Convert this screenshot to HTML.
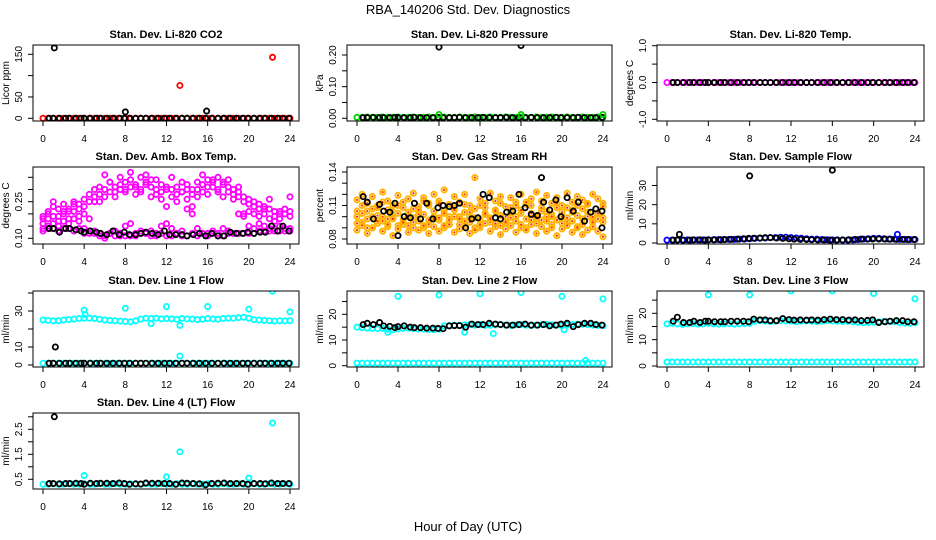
<!DOCTYPE html>
<html><head><meta charset="utf-8"><title>RBA_140206 Std. Dev. Diagnostics</title>
<style>
html,body{margin:0;padding:0;background:#fff;}
svg{display:block;font-family:"Liberation Sans",sans-serif;}
</style></head>
<body>
<svg id="chart" width="936" height="540" viewBox="0 0 936 540" xmlns="http://www.w3.org/2000/svg">
<rect x="0" y="0" width="936" height="540" fill="#fff"/>
<text x="468" y="14" text-anchor="middle" font-size="13">RBA_140206  Std. Dev. Diagnostics</text>
<text x="468" y="531" text-anchor="middle" font-size="13">Hour of Day (UTC)</text>
</svg>
<script>
// ---- shared hour categories ----
const HH = [0,0.5,1,1.5,2,2.5,3,3.5,4,4.5,5,5.5,6,6.5,7,7.5,8,8.5,9,9.5,10,10.5,11,11.5,12,12.5,13,13.5,14,14.5,15,15.5,16,16.5,17,17.5,18,18.5,19,19.5,20,20.5,21,21.5,22,22.5,23,23.5,24];
const BX = [0.6,1,1.6,2.2,2.6,3.2,3.7,4,4.6,5.2,5.6,6.2,6.8,7.4,7.9,8.4,9,9.5,10,10.6,11.2,11.8,12.3,12.9,13.5,14,14.6,15.2,15.8,16.4,17,17.6,18.2,18.8,19.4,19.9,20.5,21.1,21.6,22.2,22.8,23.3,23.9];
const xTicks = [0,4,8,12,16,20,24];

// ---- panel 1: CO2 ----
const co2Red = [0,0,0,0,0,0,0,0,0,0,0,0,0,0,0,0,0,0,0,0,0,0,0,0,0,0,0,0,0,0,0,0,0,0,0,0,0,0,0,0,0,0,0,0,0,0,0,0,0];
const co2RedOutX = [13.3,22.3];
const co2RedOutY = [77,143];
const co2Black = [0,0,0,0,0,0,0,0,0,0,0,0,0,0,0,0,0,0,0,0,0,0,0,0,0,0,0,0,0,0,0,0,0,0,0,0,0,0,0,0,0,0,0];
const co2BlackOutX = [1.1,8,15.9];
const co2BlackOutY = [165,15,17];

// ---- panel 2: pressure ----
const presGreen = [0.003,0.003,0.004,0.003,0.003,0.004,0.003,0.003,0.004,0.003,0.003,0.004,0.003,0.003,0.004,0.003,0.003,0.004,0.003,0.003,0.004,0.003,0.003,0.004,0.003,0.003,0.004,0.003,0.003,0.004,0.003,0.003,0.004,0.003,0.003,0.004,0.003,0.003,0.004,0.003,0.003,0.004,0.003,0.003,0.004,0.003,0.003,0.004,0.003];
const presBlack = [0.002,0.002,0.003,0.002,0.002,0.002,0.003,0.002,0.002,0.002,0.003,0.002,0.002,0.002,0.003,0.002,0.002,0.002,0.003,0.002,0.002,0.002,0.003,0.002,0.002,0.002,0.003,0.002,0.002,0.002,0.003,0.002,0.002,0.002,0.003,0.002,0.002,0.002,0.003,0.002,0.002,0.002,0.003];
const presBlackOutX = [8,16];
const presBlackOutY = [0.225,0.23];
const presGreenOutX = [8,16,24];
const presGreenOutY = [0.012,0.012,0.012];

// ---- panel 3: Li-820 temp ----
const tempMag = [0,0,0,0,0,0,0,0,0,0,0,0,0,0,0,0,0,0,0,0,0,0,0,0,0,0,0,0,0,0,0,0,0,0,0,0,0,0,0,0,0,0,0,0,0,0,0,0,0];
const tempBlack = [0,0,0,0,0,0,0,0,0,0,0,0,0,0,0,0,0,0,0,0,0,0,0,0,0,0,0,0,0,0,0,0,0,0,0,0,0,0,0,0,0,0,0];

// ---- panel 4: amb box temp ----
const ambMagA = [0.19,0.21,0.23,0.19,0.2,0.22,0.21,0.24,0.23,0.25,0.27,0.28,0.3,0.29,0.31,0.3,0.33,0.31,0.32,0.3,0.33,0.31,0.3,0.29,0.31,0.3,0.28,0.29,0.3,0.28,0.3,0.32,0.31,0.33,0.3,0.32,0.29,0.3,0.27,0.25,0.24,0.23,0.22,0.2,0.22,0.19,0.21,0.2,0.21];
const ambMagB = [0.16,0.18,0.25,0.17,0.21,0.18,0.24,0.19,0.2,0.18,0.3,0.25,0.36,0.33,0.27,0.35,0.29,0.37,0.28,0.35,0.36,0.27,0.34,0.26,0.23,0.35,0.25,0.33,0.26,0.23,0.27,0.36,0.28,0.34,0.35,0.27,0.34,0.26,0.31,0.2,0.21,0.25,0.19,0.22,0.26,0.17,0.18,0.2,0.27];
const ambMagC = [0.13,0.14,0.14,0.13,0.14,0.14,0.13,0.14,0.12,0.12,0.12,0.11,0.11,0.12,0.11,0.11,0.11,0.11,0.11,0.12,0.12,0.11,0.11,0.12,0.11,0.11,0.12,0.11,0.11,0.12,0.11,0.12,0.11,0.12,0.11,0.11,0.12,0.12,0.12,0.12,0.12,0.12,0.13,0.13,0.13,0.13,0.13,0.13,0.13];
const ambMagD = [0.14,0.15,0.16,0.15,0.17,0.16,0.18,0.17,0.14,0.13,0.13,0.12,0.1,0.12,0.13,0.12,0.15,0.16,0.12,0.13,0.12,0.13,0.12,0.15,0.16,0.14,0.12,0.13,0.22,0.2,0.14,0.12,0.12,0.13,0.12,0.14,0.13,0.12,0.2,0.19,0.15,0.14,0.16,0.15,0.14,0.14,0.15,0.14,0.14];
const ambMagE = [0.18,0.2,0.19,0.22,0.24,0.21,0.25,0.22,0.26,0.28,0.25,0.31,0.27,0.33,0.29,0.32,0.3,0.34,0.31,0.29,0.32,0.34,0.28,0.32,0.3,0.27,0.31,0.29,0.32,0.3,0.33,0.29,0.34,0.31,0.29,0.33,0.31,0.28,0.29,0.27,0.26,0.2,0.24,0.23,0.18,0.21,0.2,0.22,0.19];
const ambBlack = [0.14,0.14,0.125,0.14,0.14,0.135,0.13,0.125,0.13,0.125,0.12,0.115,0.13,0.115,0.125,0.115,0.115,0.12,0.125,0.12,0.115,0.13,0.115,0.115,0.115,0.11,0.115,0.12,0.11,0.12,0.11,0.11,0.125,0.12,0.12,0.125,0.12,0.125,0.125,0.15,0.13,0.15,0.13];

// ---- panel 5: gas stream RH ----
const rhA = [0.1,0.095,0.105,0.09,0.11,0.1,0.098,0.104,0.092,0.108,0.1,0.095,0.102,0.09,0.11,0.1,0.097,0.105,0.093,0.108,0.1,0.096,0.104,0.09,0.11,0.102,0.095,0.106,0.092,0.1,0.108,0.096,0.103,0.09,0.11,0.1,0.097,0.105,0.093,0.108,0.1,0.095,0.104,0.091,0.107,0.1,0.097,0.103,0.095];
const rhB = [0.115,0.12,0.112,0.118,0.108,0.122,0.114,0.11,0.119,0.113,0.116,0.121,0.109,0.117,0.112,0.12,0.114,0.124,0.111,0.118,0.113,0.12,0.11,0.135,0.116,0.112,0.121,0.114,0.118,0.109,0.117,0.113,0.12,0.111,0.116,0.122,0.114,0.119,0.112,0.117,0.11,0.121,0.113,0.118,0.115,0.111,0.12,0.116,0.112];
const rhC = [0.088,0.092,0.085,0.09,0.094,0.087,0.091,0.083,0.089,0.093,0.086,0.09,0.088,0.092,0.085,0.091,0.087,0.09,0.093,0.086,0.089,0.092,0.085,0.088,0.09,0.094,0.087,0.091,0.084,0.089,0.092,0.086,0.09,0.088,0.093,0.085,0.091,0.087,0.09,0.083,0.089,0.092,0.086,0.09,0.084,0.088,0.091,0.087,0.082];
const rhD = [0.105,0.103,0.098,0.107,0.101,0.096,0.106,0.1,0.103,0.097,0.104,0.099,0.106,0.102,0.097,0.105,0.099,0.103,0.1,0.106,0.098,0.104,0.1,0.107,0.097,0.103,0.099,0.105,0.101,0.096,0.104,0.1,0.106,0.098,0.103,0.099,0.105,0.1,0.102,0.097,0.104,0.099,0.106,0.101,0.098,0.104,0.1,0.103,0.099];
const rhE = [0.094,0.11,0.09,0.1,0.096,0.113,0.093,0.098,0.11,0.095,0.092,0.107,0.096,0.114,0.093,0.098,0.112,0.092,0.097,0.1,0.093,0.111,0.095,0.099,0.093,0.108,0.098,0.094,0.112,0.095,0.099,0.11,0.093,0.113,0.097,0.094,0.108,0.096,0.1,0.112,0.094,0.108,0.096,0.11,0.093,0.112,0.095,0.098,0.109];
const rhBlack = [0.118,0.113,0.098,0.111,0.105,0.104,0.112,0.083,0.1,0.099,0.112,0.098,0.112,0.098,0.108,0.11,0.109,0.11,0.112,0.09,0.098,0.099,0.12,0.117,0.099,0.098,0.104,0.105,0.12,0.108,0.102,0.101,0.113,0.106,0.115,0.1,0.117,0.105,0.113,0.096,0.104,0.107,0.105];
const rhBlackOutX = [18,23.9];
const rhBlackOutY = [0.135,0.09];

// ---- panel 6: sample flow ----
const sfBlue = [1.5,1.5,1.5,1.5,1.6,1.6,1.6,1.6,1.7,1.7,1.8,1.8,1.9,1.9,2,2,2.2,2.4,2.5,2.6,2.8,2.8,3,3,2.8,2.6,2.5,2.2,2,2,1.8,1.7,1.6,1.6,1.5,1.5,1.6,1.8,2,2.2,2.4,2.4,2.2,2,2,1.9,1.9,1.8,1.8];
const sfBlack = [1.5,1.6,1.5,1.5,1.6,1.6,1.5,1.6,1.7,1.7,1.8,1.9,2,2.2,2.4,2.5,2.6,2.8,2.8,2.6,2.4,2.2,2,1.9,1.8,1.7,1.6,1.6,1.5,1.5,1.6,1.7,1.8,2,2,2.1,2.1,2,2,1.9,1.9,1.8,1.8];
const sfBlackOutX = [1.2,8,16];
const sfBlackOutY = [4.5,35,38];
const sfBlueOutX = [22.3];
const sfBlueOutY = [4.5];

// ---- panel 7: line 1 ----
const l1Cyan = [25,24.8,24.5,24.6,25,25.2,25.5,25.8,26,26,25.8,25.4,25,24.8,24.6,24.4,24.2,24,24.5,25.5,26,25.8,26,25.6,25.8,25.6,25.4,25.8,25.6,25.5,25.2,25.4,25.8,25.6,25.4,25.8,26,26,26.3,26.5,26,25.2,25,24.8,24.6,24.4,24.6,24.5,24.6];
const l1CyanLow = [1,1,1,1,1,1,1,1,1,1,1,1,1,1,1,1,1,1,1,1,1,1,1,1,1,1,1,1,1,1,1,1,1,1,1,1,1,1,1,1,1,1,1,1,1,1,1,1,1];
const l1CyanOutX = [4,8,12,16,20,22.3,24,13.3,13.3,10.5,4.1];
const l1CyanOutY = [30.5,31.5,32.5,32.5,31,41,29.5,5,22,23,28];
const l1Black = [1,1,1,1,1,1,1,1,1,1,1,1,1,1,1,1,1,1,1,1,1,1,1,1,1,1,1,1,1,1,1,1,1,1,1,1,1,1,1,1,1,1,1];
const l1BlackOutX = [1.2];
const l1BlackOutY = [10];

// ---- panel 8: line 2 ----
const l2Cyan = [15,14.8,14.6,14.5,14.4,14.5,14.2,14,14.3,14.5,14.6,14.4,14.3,14.2,14.1,14,14.2,15.5,15.6,15.8,15.7,15.9,16,15.8,16,15.7,15.8,15.9,16,15.8,15.7,15.9,16,15.8,15.6,15.8,16,16.1,15.9,15.8,15.6,15.8,16,16.2,16.1,16,15.8,15.7,15.6];
const l2CyanLow = [1,1,1,1,1,1,1,1,1,1,1,1,1,1,1,1,1,1,1,1,1,1,1,1,1,1,1,1,1,1,1,1,1,1,1,1,1,1,1,1,1,1,1,1,1,1,1,1,1];
const l2CyanOutX = [4,8,12,16,20,24,3,10.5,13.3,20.2,22.3];
const l2CyanOutY = [27,27.5,28,28.5,27,26,13,13,12.5,14,2];
const l2Black = [16,16.5,16,16.8,15.5,15.3,14.8,15.2,15.5,15,14.8,14.8,14.6,14.6,14.5,14.4,15.5,15.6,15.6,15,16.2,16,16,16.5,16.2,16,15.8,15.8,16,16.2,15.8,15.8,16,15.5,15.8,16.2,16.5,15.2,16,16.5,16.5,16,15.8];

// ---- panel 9: line 3 ----
const l3Cyan = [16,16.2,16,15.8,16,16.1,15.9,16,16.2,16,15.9,16,16.1,15.9,16,16.1,16.2,17,17.2,17,16.9,17,17.2,17.1,17,16.8,17,17.1,17,16.9,17,17.2,17.1,17,16.9,17,16.8,16.6,16.4,16.5,16.6,16.8,16.9,17,16.8,16.5,16.3,16.2,16.4];
const l3CyanLow = [1.5,1.5,1.5,1.5,1.5,1.5,1.5,1.5,1.5,1.5,1.5,1.5,1.5,1.5,1.5,1.5,1.5,1.5,1.5,1.5,1.5,1.5,1.5,1.5,1.5,1.5,1.5,1.5,1.5,1.5,1.5,1.5,1.5,1.5,1.5,1.5,1.5,1.5,1.5,1.5,1.5,1.5,1.5,1.5,1.5,1.5,1.5,1.5,1.5];
const l3CyanOutX = [4,8,12,16,20,24];
const l3CyanOutY = [27,27,28.5,28.5,27.5,25.5];
const l3Black = [17,18.5,16.5,16.5,17,16.5,17,17,16.8,16.8,16.8,17,17,17,16.8,17.8,17.5,17.5,17.2,17.2,18,17.6,17.4,17.5,17.4,17.5,17.4,17.6,17.8,17.6,17.6,17.4,17.5,17.2,17.3,17.5,16.5,16.8,17,17.2,17.2,16.8,16.8];

// ---- panel 10: line 4 ----
const l4Cyan = [0.3,0.3,0.32,0.3,0.3,0.32,0.3,0.3,0.32,0.3,0.3,0.32,0.3,0.3,0.32,0.3,0.3,0.32,0.3,0.3,0.32,0.3,0.3,0.32,0.3,0.3,0.32,0.3,0.3,0.32,0.3,0.3,0.32,0.3,0.3,0.32,0.3,0.3,0.32,0.3,0.3,0.32,0.3,0.3,0.32,0.3,0.3,0.32,0.3];
const l4CyanOutX = [4,12,13.3,20,22.3];
const l4CyanOutY = [0.65,0.6,1.6,0.55,2.75];
const l4Black = [0.33,0.33,0.32,0.33,0.33,0.34,0.33,0.3,0.34,0.33,0.34,0.34,0.33,0.35,0.33,0.3,0.32,0.31,0.35,0.34,0.34,0.33,0.33,0.3,0.35,0.34,0.33,0.32,0.28,0.33,0.34,0.35,0.33,0.33,0.33,0.3,0.33,0.33,0.32,0.35,0.33,0.33,0.33];
const l4BlackOutX = [1.1];
const l4BlackOutY = [3.0];

// ---- tick arrays ----
const p1Ticks = [0,50,100,150];   const p1Labels = ["0","50","","150"];
const p2Ticks = [0,0.05,0.1,0.15,0.2]; const p2Labels = ["0.00","","0.10","","0.20"];
const p3Ticks = [-1,-0.5,0,0.5,1]; const p3Labels = ["-1.0","","0.0","","1.0"];
const p4Ticks = [0.1,0.15,0.2,0.25,0.3,0.35]; const p4Labels = ["0.10","","","0.25","",""];
const p5Ticks = [0.08,0.09,0.1,0.11,0.12,0.13,0.14]; const p5Labels = ["0.08","","","0.11","","","0.14"];
const p6Ticks = [0,10,20,30]; const p6Labels = ["0","10","20","30"];
const p7Ticks = [0,10,20,30,40]; const p7Labels = ["0","10","","30",""];
const p8Ticks = [0,5,10,15,20,25]; const p8Labels = ["0","","10","","20",""];
const p9Ticks = [0,5,10,15,20,25]; const p9Labels = ["0","","10","","20",""];
const p10Ticks = [0.5,1,1.5,2,2.5,3]; const p10Labels = ["0.5","","1.5","","2.5",""];

const NS = "http://www.w3.org/2000/svg";
const svg = document.getElementById('chart');
function mk(tag, attrs, parent){const e=document.createElementNS(NS,tag);for(const k in attrs)e.setAttribute(k,attrs[k]);(parent||svg).appendChild(e);return e;}

const cols = [[33,299],[347,612],[657,924]];
const rows = [[45,121],[167,244],[291,367],[413,489]];

const panels = [
 {name:'co2',title:'Stan. Dev. Li-820 CO2',ylab:'Licor ppm',c:0,r:0,ya:[0,118.3,150,54.3],ticks:p1Ticks,labels:p1Labels,
  series:[[HH,co2Red,'#ff0000'],[BX,co2Black,'#000'],[co2RedOutX,co2RedOutY,'#ff0000'],[co2BlackOutX,co2BlackOutY,'#000']]},
 {name:'pressure',title:'Stan. Dev. Li-820 Pressure',ylab:'kPa',c:1,r:0,ya:[0,118.3,0.2,55],ticks:p2Ticks,labels:p2Labels,
  series:[[HH,presGreen,'#00d000'],[BX,presBlack,'#000'],[presGreenOutX,presGreenOutY,'#00d000'],[presBlackOutX,presBlackOutY,'#000']]},
 {name:'li820-temp',title:'Stan. Dev. Li-820 Temp.',ylab:'degrees C',c:2,r:0,ya:[0,82.5,1,45.7],ticks:p3Ticks,labels:p3Labels,
  series:[[HH,tempMag,'#ff00ff'],[BX,tempBlack,'#000']]},
 {name:'amb-box-temp',title:'Stan. Dev. Amb. Box Temp.',ylab:'degrees C',c:0,r:1,ya:[0.1,238.3,0.25,201.7],ticks:p4Ticks,labels:p4Labels,
  series:[[HH,ambMagA,'#ff00ff'],[HH,ambMagB,'#ff00ff'],[HH,ambMagC,'#ff00ff'],[HH,ambMagD,'#ff00ff'],[HH,ambMagE,'#ff00ff'],[BX,ambBlack,'#000']]},
 {name:'gas-stream-rh',title:'Stan. Dev. Gas Stream RH',ylab:'percent',c:1,r:1,ya:[0.08,239,0.14,172],ticks:p5Ticks,labels:p5Labels,
  series:[[HH,rhA,'rh'],[HH,rhB,'rh'],[HH,rhC,'rh'],[HH,rhD,'rh'],[HH,rhE,'rh'],[BX,rhBlack,'#000'],[rhBlackOutX,rhBlackOutY,'#000']]},
 {name:'sample-flow',title:'Stan. Dev. Sample Flow',ylab:'ml/min',c:2,r:1,ya:[0,243,30,185.5],ticks:p6Ticks,labels:p6Labels,
  series:[[HH,sfBlue,'#0000ff'],[BX,sfBlack,'#000'],[sfBlueOutX,sfBlueOutY,'#0000ff'],[sfBlackOutX,sfBlackOutY,'#000']]},
 {name:'line1-flow',title:'Stan. Dev. Line 1 Flow',ylab:'ml/min',c:0,r:2,ya:[0,365,30,311],ticks:p7Ticks,labels:p7Labels,
  series:[[HH,l1Cyan,'#00ffff'],[HH,l1CyanLow,'#00ffff'],[l1CyanOutX,l1CyanOutY,'#00ffff'],[BX,l1Black,'#000'],[l1BlackOutX,l1BlackOutY,'#000']]},
 {name:'line2-flow',title:'Stan. Dev. Line 2 Flow',ylab:'ml/min',c:1,r:2,ya:[0,365.7,20,314.3],ticks:p8Ticks,labels:p8Labels,
  series:[[HH,l2Cyan,'#00ffff'],[HH,l2CyanLow,'#00ffff'],[l2CyanOutX,l2CyanOutY,'#00ffff'],[BX,l2Black,'#000']]},
 {name:'line3-flow',title:'Stan. Dev. Line 3 Flow',ylab:'ml/min',c:2,r:2,ya:[0,366,20,313.3],ticks:p9Ticks,labels:p9Labels,
  series:[[HH,l3Cyan,'#00ffff'],[HH,l3CyanLow,'#00ffff'],[l3CyanOutX,l3CyanOutY,'#00ffff'],[BX,l3Black,'#000']]},
 {name:'line4-flow',title:'Stan. Dev. Line 4 (LT) Flow',ylab:'ml/min',c:0,r:3,ya:[0.5,479.3,2.5,429.3],ticks:p10Ticks,labels:p10Labels,
  series:[[HH,l4Cyan,'#00ffff'],[l4CyanOutX,l4CyanOutY,'#00ffff'],[BX,l4Black,'#000'],[l4BlackOutX,l4BlackOutY,'#000']]}
];

panels.forEach(p=>{
  const [L,R]=cols[p.c], [T,B]=rows[p.r];
  const x0=L+10, x1=R-9;
  const xs=h=>x0+(x1-x0)*h/24;
  const ys=v=>p.ya[1]+(v-p.ya[0])*(p.ya[3]-p.ya[1])/(p.ya[2]-p.ya[0]);
  const g=mk('g',{});
  
  
  const cp=mk('clipPath',{id:'clip-'+p.name},g);
  mk('rect',{x:L,y:T,width:R-L,height:B-T},cp);
  const t=mk('text',{x:(L+R)/2,y:T-7,'text-anchor':'middle','font-size':'11','font-weight':'bold'},g);
  t.textContent=p.title;
  
  
  const pg=mk('g',{'clip-path':'url(#clip-'+p.name+')'},g);
  
  
  p.series.forEach(([X,Y,col])=>{
    const n=Math.min(X.length,Y.length);
    for(let i=0;i<n;i++){
      const cx=xs(X[i]), cy=ys(Y[i]);
      if(col==='rh'){
        const c=mk('circle',{cx:cx,cy:cy,r:2.6,fill:'none',stroke:'#ffb400','stroke-width':1.9},pg);
        
        
        mk('circle',{cx:cx,cy:cy,r:1.1,fill:'#ff3000'},pg);
      } else {
        const c=mk('circle',{cx:cx,cy:cy,r:2.6,fill:'none',stroke:col,'stroke-width':1.8},pg);
        
        
      }
    }
  });
  const bx=mk('rect',{x:L,y:T,width:R-L,height:B-T,fill:'none',stroke:'#000','stroke-width':1},g);
  
  
  const xa=mk('g',{},g);
  
  
  mk('line',{x1:xs(xTicks[0]),x2:xs(xTicks[xTicks.length-1]),y1:B,y2:B,stroke:'#000'},xa);
  xTicks.forEach(h=>{
    mk('line',{x1:xs(h),x2:xs(h),y1:B,y2:B+5,stroke:'#000'},xa);
    const tl=mk('text',{x:xs(h),y:B+21,'text-anchor':'middle','font-size':'10'},xa);
    tl.textContent=String(h);
  });
  const ya=mk('g',{},g);
  
  
  const vis=p.ticks.filter(v=>ys(v)>=T-1&&ys(v)<=B+1);
  mk('line',{x1:L,x2:L,y1:ys(vis[0]),y2:ys(vis[vis.length-1]),stroke:'#000'},ya);
  p.ticks.forEach((v,i)=>{
    const yy=ys(v); if(yy<T-1||yy>B+1) return;
    mk('line',{x1:L-5,x2:L,y1:yy,y2:yy,stroke:'#000'},ya);
    if(p.labels[i]){
      const tl=mk('text',{x:L-11,y:yy,'text-anchor':'middle','font-size':'10',transform:'rotate(-90 '+(L-11)+' '+yy+')'},ya);
      tl.textContent=p.labels[i];
    }
  });
  const yl=mk('text',{x:L-24,y:(T+B)/2,'text-anchor':'middle','font-size':'10',transform:'rotate(-90 '+(L-24)+' '+((T+B)/2)+')'},g);
  yl.textContent=p.ylab;
  
  
});
</script>
</body></html>
